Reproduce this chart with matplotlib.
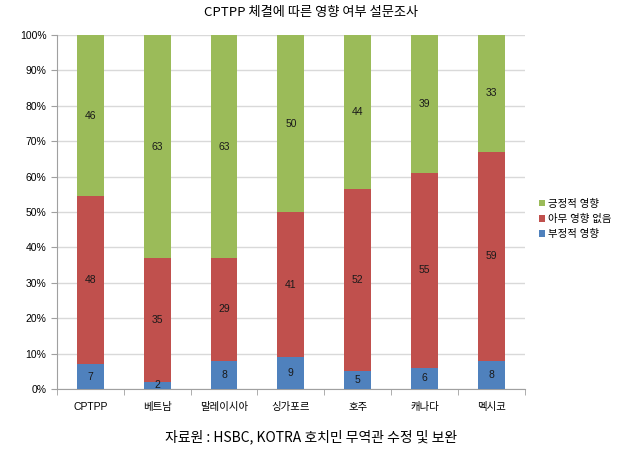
import numpy as np
import matplotlib.pyplot as plt
from matplotlib.ticker import PercentFormatter

plt.rcParams['font.family'] = ['Liberation Sans', 'Noto Sans CJK KR', 'DejaVu Sans']

categories = ['CPTPP', '베트남', '말레이시아', '싱가포르', '호주', '캐나다', '멕시코']
negative = [7, 2, 8, 9, 5, 6, 8]
no_effect = [48, 35, 29, 41, 52, 55, 59]
positive = [46, 63, 63, 50, 44, 39, 33]

series = [('부정적 영향', negative, '#4F81BD'),
          ('아무 영향 없음', no_effect, '#C0504D'),
          ('긍정적 영향', positive, '#9BBB59')]

totals = np.array(negative) + np.array(no_effect) + np.array(positive)
x = np.arange(len(categories))

fig = plt.figure(figsize=(6.22, 4.59), dpi=100)
ax = fig.add_axes([0.0916, 0.1525, 0.752, 0.7712])

bottom = np.zeros(len(categories))
handles = []
for name, vals, color in series:
    pct = np.array(vals) / totals
    b = ax.bar(x, pct, 0.4, bottom=bottom, color=color, label=name, zorder=3)
    handles.append(b)
    for xi, v, p, bt in zip(x, vals, pct, bottom):
        ax.text(xi, bt + p / 2, str(v), ha='center', va='center',
                fontsize=7.5, color='#1a1a1a', zorder=4)
    bottom += pct

ax.set_xlim(-0.5, len(categories) - 0.5)
ax.set_ylim(0, 1)
ax.set_yticks(np.arange(0, 1.01, 0.1))
ax.yaxis.set_major_formatter(PercentFormatter(1.0, decimals=0))
ax.grid(axis='y', color='#d9d9d9', linewidth=1, zorder=0)
ax.set_xticks(x)
ax.set_xticklabels(categories)
ax.set_xticks(np.arange(-0.5, len(categories), 1), minor=True)
ax.tick_params(axis='x', which='major', length=0, pad=9, labelsize=7.5)
ax.tick_params(axis='x', which='minor', length=4, color='#a0a0a0')
ax.tick_params(axis='y', length=4, color='#a0a0a0', labelsize=7.5)
for s in ['top', 'right']:
    ax.spines[s].set_visible(False)
for s in ['left', 'bottom']:
    ax.spines[s].set_color('#a0a0a0')

ax.legend(handles[::-1], [h.get_label() for h in handles[::-1]],
          loc='center left', bbox_to_anchor=(1.01, 0.48), frameon=False,
          fontsize=7.5, handlelength=0.6, handleheight=0.6, handletextpad=0.3,
          labelspacing=0.5)

fig.text(0.5, 0.972, 'CPTPP 체결에 따른 영향 여부 설문조사', ha='center', va='center',
         fontsize=9.5, family=['Noto Sans CJK KR'])
fig.text(0.5, 0.048, '자료원 : HSBC, KOTRA 호치민 무역관 수정 및 보완', ha='center',
         va='center', fontsize=10, family=['Noto Sans CJK KR'])

fig.savefig('out.png', dpi=100)
